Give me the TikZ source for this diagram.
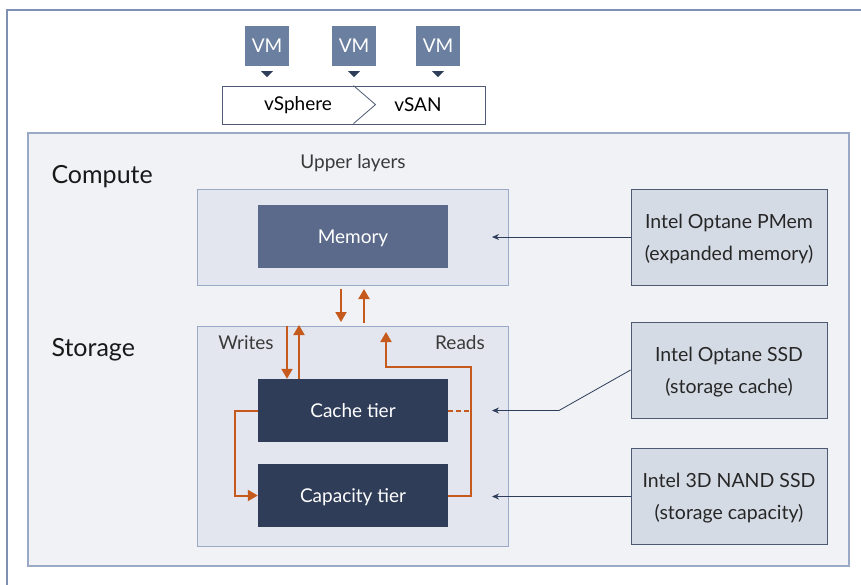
\documentclass[tikz,border=0pt]{standalone}
\usepackage{fontspec}
\setmainfont{Lato}
\usetikzlibrary{arrows.meta}

\definecolor{framecol}{HTML}{7F90B2}
\definecolor{panelfill}{HTML}{F0F2F6}
\definecolor{panelline}{HTML}{9AAAC6}
\definecolor{groupfill}{HTML}{E3E6EE}
\definecolor{vmfill}{HTML}{6B7FA1}
\definecolor{memfill}{HTML}{5B6A8A}
\definecolor{tierfill}{HTML}{2F3D58}
\definecolor{devfill}{HTML}{D5DBE5}
\definecolor{devline}{HTML}{4E5A74}
\definecolor{flow}{HTML}{C55A1C}
\definecolor{navy}{HTML}{2E3D5A}
\definecolor{textgray}{HTML}{3A3A3A}

\begin{document}
\begin{tikzpicture}[x=1pt, y=-1pt,
    vmbox/.style={fill=vmfill, text=white, minimum width=44pt, minimum height=40pt, inner sep=0pt, font=\fontsize{19}{21}\selectfont},
    group/.style={draw=panelline, fill=groupfill, line width=1pt, minimum width=311pt, inner sep=0pt},
    tier/.style={fill=tierfill, text=white, minimum width=190pt, minimum height=63pt, inner sep=0pt, text height=13pt, text depth=0pt, font=\fontsize{19}{21}\selectfont},
    device/.style={draw=devline, fill=devfill, line width=0.8pt, minimum width=196pt, minimum height=96pt, inner sep=0pt, align=center, text depth=0pt, font=\fontsize{19.5}{32}\selectfont, text=black!85},
    section/.style={font=\fontsize{25}{28}\selectfont, text=black!90, anchor=west},
    note/.style={font=\fontsize{19}{21}\selectfont, text=textgray},
    flowline/.style={draw=flow, line width=2pt, -{Triangle[length=10pt, width=11pt]}},
    link/.style={draw=navy, line width=0.8pt, -{Stealth[length=7pt, width=6pt]}}]

  \useasboundingbox (0,0) rectangle (861,584);
  \clip (0,0) rectangle (861,584);
  \fill[white] (0,0) rectangle (861,584);

  % Outer frame and panel
  \draw[framecol, line width=2pt] (7,600) |- (870,10);
  \draw[panelline, fill=panelfill, line width=1.2pt] (28,133) rectangle (849,566);

  % VMs on top of vSphere / vSAN
  \node[vmbox] (vm1) at (267,46) {VM};
  \node[vmbox] (vm2) at (354,46) {VM};
  \node[vmbox] (vm3) at (438,46) {VM};
  \foreach \v in {vm1,vm2,vm3}
    \fill[navy] (\v.south) ++(-6,5) -- ++(12,0) -- ++(-6,6) -- cycle;

  \node[draw=devline, fill=white, line width=0.8pt, minimum width=263pt, minimum height=38pt, inner sep=0pt] (stack) at (353.5,105) {};
  \draw[devline, line width=0.8pt] (stack.north) -- ++(22,19) -- ++(-22,19);
  \node[note, text=black] (vsphere) at (298,105) {vSphere};
  \node[note, text=black] (vsan) at (418,105) {vSAN};

  % Section titles
  \node[section] (compute) at (48,177) {Compute};
  \node[section] (storage) at (48,350) {Storage};
  \node[note] (upper) at (353,163) {Upper layers};

  % Compute group
  \node[group, minimum height=96pt] (memgroup) at (352.5,237) {};
  \node[tier, fill=memfill] (memory) at (353,236.5) {Memory};

  % Storage group
  \node[group, minimum height=220pt] (stgroup) at (352.5,436) {};
  \node[note] (writes) at (246,343) {Writes};
  \node[note] (reads) at (460,343) {Reads};
  \node[tier] (cache) at (353,410.5) {Cache tier};
  \node[tier] (capacity) at (353,495.5) {Capacity tier};

  % Devices
  \node[device] (pmem) at (729,237) {Intel Optane PMem\\(expanded memory)};
  \node[device] (optane) at (729,370) {Intel Optane SSD\\(storage cache)};
  \node[device] (nand) at (729,496.5) {Intel 3D NAND SSD\\(storage capacity)};

  % Flows between memory and storage
  \draw[flowline] (341,0 |- memgroup.south) ++(0,3) -- (341,322);
  \draw[flowline] (364,0 |- stgroup.north) ++(0,-3) -- (364,289);
  \draw[flowline] (287,0 |- stgroup.north) -- (287,0 |- cache.north);
  \draw[flowline] (299,0 |- cache.north) -- (299,325);
  \draw[flowline] (capacity.east) -- (471,495.5) -- (471,367) -- (386,367) -- (386,332);
  \draw[flow, line width=2pt, dash pattern=on 5pt off 3pt] (cache.east) -- (471,410.5);
  \draw[flowline] (cache.west) -- (235,410.5) -- (235,495.5) -- (capacity.west);

  % Device links
  \draw[link] (pmem.west) -- (492,237);
  \draw[link] (optane.west) -- (559,410.5) -- (492,410.5);
  \draw[link] (nand.west) -- (492,496.5);

\end{tikzpicture}
\end{document}
